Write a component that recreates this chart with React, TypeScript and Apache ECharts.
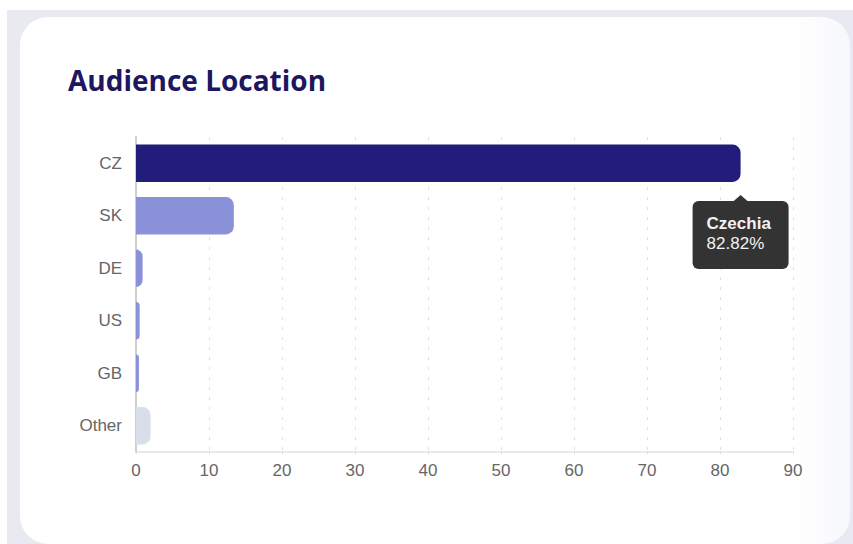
import React, { useEffect, useRef } from "react";
import * as echarts from "echarts";

const categories = ["CZ", "SK", "DE", "US", "GB", "Other"];
const values = [82.82, 13.4, 0.9, 0.5, 0.4, 2.0];
const barColors = ["#221c7b", "#8b91d8", "#8b91d8", "#8b91d8", "#8b91d8", "#d8dfea"];
const tooltipName = "Czechia";
const tooltipIndex = 0;
const xTicks = [0, 10, 20, 30, 40, 50, 60, 70, 80, 90];

export default function App() {
  const ref = useRef<HTMLDivElement>(null);
  useEffect(() => {
    if (!ref.current) return;
    const chart = echarts.init(ref.current, null, { renderer: "svg" });
    const option: any = {
      animation: false,
      title: {
        text: "Audience Location",
        left: 63,
        top: 61,
        textStyle: {
          fontFamily: "Open Sans",
          fontWeight: "bold",
          fontSize: 28,
          color: "#1d1760",
        },
      },
      grid: { left: 136, right: 60, top: 137, bottom: 92, containLabel: false },
      xAxis: {
        type: "value",
        min: xTicks[0],
        max: xTicks[xTicks.length - 1],
        interval: 10,
        axisLine: { show: true, lineStyle: { color: "#e2e2e2", width: 1.5 } },
        axisTick: { show: true, length: 6, lineStyle: { color: "#dddddd", type: [2, 4] } },
        axisLabel: { color: "#666", fontSize: 17, margin: 10, fontFamily: "Liberation Sans" },
        splitLine: { show: true, lineStyle: { color: "#e0e0e0", type: [3, 7], width: 1 } },
      },
      yAxis: {
        type: "category",
        inverse: true,
        data: categories,
        axisLine: { show: true, lineStyle: { color: "#cfcfcf", width: 2 } },
        axisTick: { show: false },
        axisLabel: { color: "#666", fontSize: 17, margin: 14, fontFamily: "Liberation Sans" },
        splitLine: { show: false },
      },
      series: [
        {
          type: "bar",
          barCategoryGap: "29%",
          data: values.map((v, i) => ({
            value: v,
            itemStyle: { color: barColors[i], borderRadius: [0, 8, 8, 0] },
          })),
        },
      ],
    };
    chart.setOption(option);

    const v = values[tooltipIndex];
    const p = chart.convertToPixel({ gridIndex: 0 }, [v, tooltipIndex]) as number[];
    const bandH = (544 - 137 - 92) / categories.length;
    const barBottom = p[1] + (bandH * 0.71) / 2;
    const tipY = barBottom + 13;
    const boxTop = tipY + 6;
    const boxW = 96;
    const boxH = 68;
    const boxLeft = p[0] - boxW / 2;
    chart.setOption({
      graphic: [
        {
          type: "group",
          z: 100,
          children: [
            {
              type: "rect",
              shape: { x: boxLeft, y: boxTop, width: boxW, height: boxH, r: 6 },
              style: { fill: "#333333" },
            },
            {
              type: "polygon",
              shape: {
                points: [
                  [p[0] - 8, boxTop + 1],
                  [p[0], tipY],
                  [p[0] + 8, boxTop + 1],
                ],
              },
              style: { fill: "#333333" },
            },
            {
              type: "text",
              x: boxLeft + 14,
              y: boxTop + 23,
              style: {
                text: tooltipName,
                fill: "#f2f2f2",
                font: "bold 17px 'Liberation Sans'",
                textVerticalAlign: "middle",
              },
            },
            {
              type: "text",
              x: boxLeft + 14,
              y: boxTop + 43,
              style: {
                text: v.toFixed(2) + "%",
                fill: "#f2f2f2",
                font: "17px 'Liberation Sans'",
                textVerticalAlign: "middle",
              },
            },
          ],
        },
      ],
    });
    return () => chart.dispose();
  }, []);

  return (
    <div
      style={{
        position: "fixed",
        left: 0,
        top: 0,
        width: 853,
        height: 544,
        background: "#ffffff",
        overflow: "hidden",
      }}
    >
      <div
        style={{
          position: "absolute",
          left: 7,
          top: 10,
          width: 846,
          height: 534,
          background: "#e9eaf1",
        }}
      />
      <div
        style={{
          position: "absolute",
          left: 20,
          top: 17,
          width: 830,
          height: 527,
          background: "linear-gradient(90deg, #ffffff 0%, #ffffff 93%, #f7f8fb 100%)",
          borderRadius: 28,
        }}
      />
      <div ref={ref} style={{ position: "absolute", left: 0, top: 0, width: 853, height: 544 }} />
    </div>
  );
}
